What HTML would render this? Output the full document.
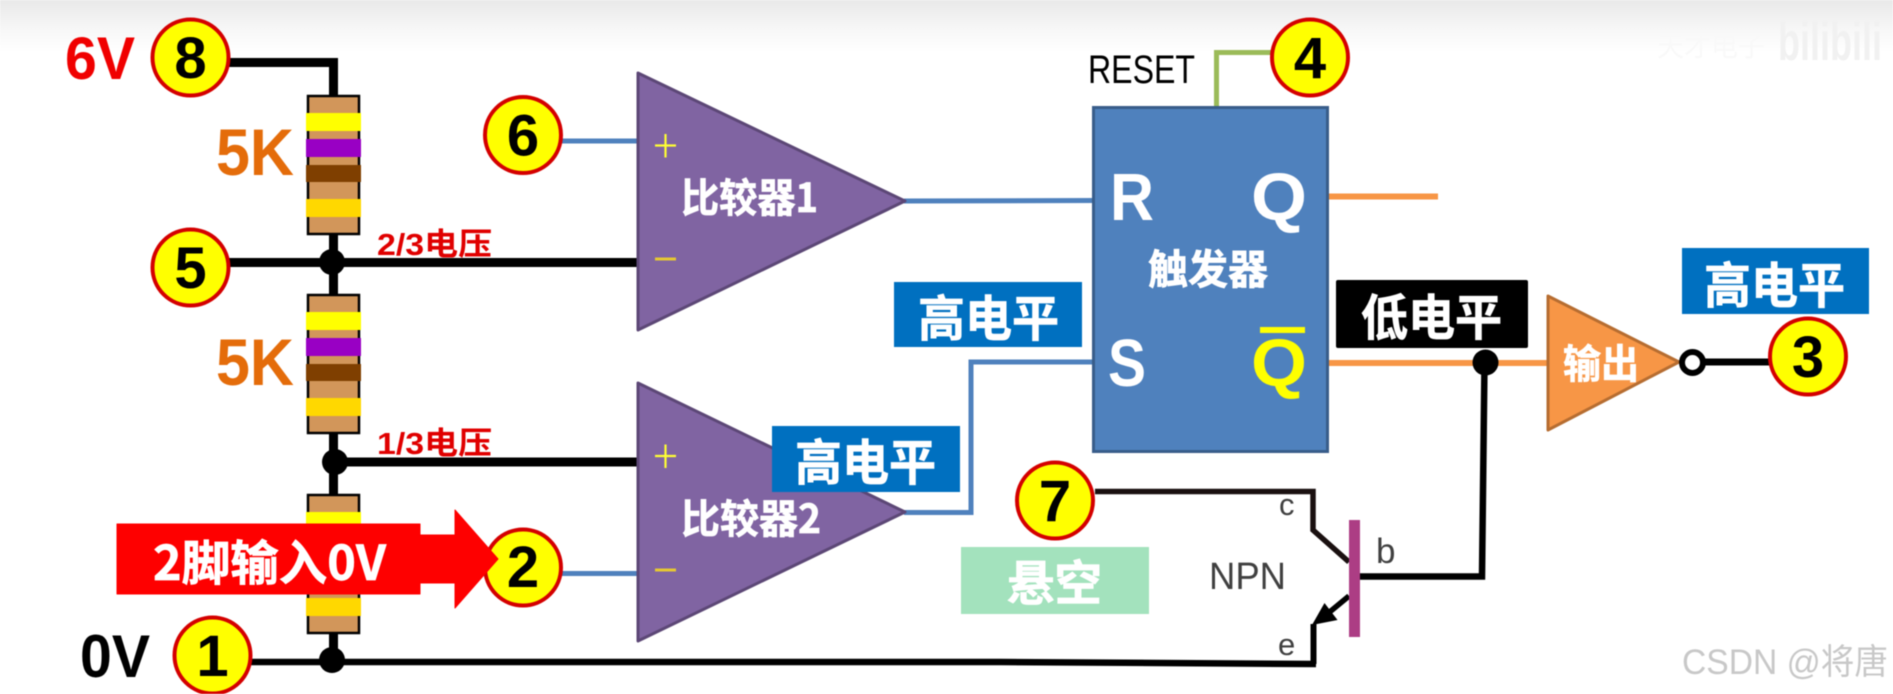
<!DOCTYPE html>
<html><head><meta charset="utf-8"><style>
html,body{margin:0;padding:0;background:#fff;width:1893px;height:694px;overflow:hidden}
svg{display:block;filter:blur(0.45px)}
text{font-family:"Liberation Sans","Noto Sans CJK SC",sans-serif}
.n{font-weight:700;font-size:58px;fill:#000;text-anchor:middle}
.c{font-family:"Noto Sans CJK SC","Liberation Sans",sans-serif;font-weight:700;fill:#fff;stroke:#fff;stroke-width:0.7px}
.w{fill:none;stroke:#000;stroke-width:9}
.bl{fill:none;stroke:#4f81bd;stroke-width:5}
.cir{fill:#ff0;stroke:#d40000;stroke-width:4}
</style></head><body>
<svg width="1893" height="694" viewBox="0 0 1893 694" xmlns="http://www.w3.org/2000/svg">
<defs>
<linearGradient id="top" x1="0" y1="0" x2="0" y2="1"><stop offset="0" stop-color="#e9e9e9"/><stop offset="0.6" stop-color="#f8f8f8"/><stop offset="1" stop-color="#fff"/></linearGradient>
</defs>
<rect width="1893" height="694" fill="#fff"/>
<rect width="1893" height="52" fill="url(#top)"/>

<!-- watermark -->
<text x="1657" y="56" font-size="28" fill="#f9f9f9" textLength="108" lengthAdjust="spacingAndGlyphs">天才电子</text>
<text x="1778" y="60" font-size="54" font-weight="700" fill="#f1f1f1" textLength="104" lengthAdjust="spacingAndGlyphs">bilibili</text>

<!-- wires left -->
<path class="w" d="M228 62.5H333.5V96"/>
<path class="w" d="M333.5 234V294M228 262.5H640"/>
<path class="w" d="M333.5 433V494M334 462H640"/>
<path d="M333.5 633V662" class="w"/>
<path d="M250 662H1000L1316 664" fill="none" stroke="#000" stroke-width="6.5"/>
<circle cx="332" cy="262" r="13"/>
<ellipse cx="335" cy="462" rx="13" ry="13"/>
<circle cx="332" cy="660" r="13"/>

<!-- resistors -->
<g id="r1">
<rect x="308" y="96" width="51" height="138" fill="#d2965a" stroke="#000" stroke-width="2.5"/>
<rect x="306" y="113" width="55" height="18" fill="#ffff00"/>
<rect x="306" y="139" width="55" height="18" fill="#9900c4"/>
<rect x="306" y="165" width="55" height="17" fill="#7f3f00"/>
<rect x="306" y="199" width="55" height="18" fill="#ffd800"/>
</g>
<g transform="translate(0,199)">
<rect x="308" y="96" width="51" height="138" fill="#d2965a" stroke="#000" stroke-width="2.5"/>
<rect x="306" y="113" width="55" height="18" fill="#ffff00"/>
<rect x="306" y="139" width="55" height="18" fill="#9900c4"/>
<rect x="306" y="165" width="55" height="17" fill="#7f3f00"/>
<rect x="306" y="199" width="55" height="18" fill="#ffd800"/>
</g>
<g transform="translate(0,399)">
<rect x="308" y="96" width="51" height="138" fill="#d2965a" stroke="#000" stroke-width="2.5"/>
<rect x="306" y="113" width="55" height="18" fill="#ffff00"/>
<rect x="306" y="199" width="55" height="18" fill="#ffd800"/>
</g>

<!-- blue wires -->
<path class="bl" d="M560 141H640"/>
<path class="bl" d="M560 573.5H640"/>
<path class="bl" d="M904 201L1094 200.5"/>
<path class="bl" d="M904 512.5H971V362H1094"/>

<!-- comparators -->
<path d="M638 73L905 201L638 330Z" fill="#8064a2" stroke="#5c4776" stroke-width="3" stroke-linejoin="round"/>
<path d="M638 383L905 512L638 641Z" fill="#8064a2" stroke="#5c4776" stroke-width="3" stroke-linejoin="round"/>
<path d="M655 145.5H676M665.5 134V157.500" stroke="#ffff33" stroke-width="2.200" fill="none"/>
<path d="M655 259H676" stroke="#e6c832" stroke-width="3" fill="none"/>
<path d="M655 456H676M665.5 444.500V468" stroke="#ffff33" stroke-width="2.200" fill="none"/>
<path d="M655 570H676" stroke="#e6c832" stroke-width="3" fill="none"/>
<text class="c" x="681" y="212" font-size="40" textLength="137" lengthAdjust="spacingAndGlyphs">比较器1</text>
<text class="c" x="681" y="533" font-size="40" textLength="140" lengthAdjust="spacingAndGlyphs">比较器2</text>

<!-- flip flop -->
<path d="M1216.500 108V52.500H1272" fill="none" stroke="#9bbb59" stroke-width="5"/>
<rect x="1093.500" y="107.500" width="234" height="344" fill="#4f81bd" stroke="#385d8a" stroke-width="3"/>
<text x="1110" y="220" font-size="67" font-weight="700" fill="#fff" textLength="44" lengthAdjust="spacingAndGlyphs">R</text>
<text x="1251" y="220" font-size="67" font-weight="700" fill="#fff" textLength="56" lengthAdjust="spacingAndGlyphs">Q</text>
<text x="1108" y="386" font-size="67" font-weight="700" fill="#fff" textLength="38" lengthAdjust="spacingAndGlyphs">S</text>
<text x="1251" y="386" font-size="67" font-weight="700" fill="#ff0" textLength="56" lengthAdjust="spacingAndGlyphs">Q</text>
<rect x="1260" y="327" width="45" height="6" fill="#ff0"/>
<text class="c" x="1148" y="284" font-size="41" textLength="120" lengthAdjust="spacingAndGlyphs">触发器</text>
<text x="1088" y="83" font-size="40" fill="#000" textLength="107" lengthAdjust="spacingAndGlyphs">RESET</text>

<!-- orange wires -->
<path d="M1329 196.500H1438" fill="none" stroke="#f79646" stroke-width="6"/>
<path d="M1329 363H1550" fill="none" stroke="#f79646" stroke-width="6"/>

<!-- base wire -->
<path d="M1360 576.500H1482L1484.500 363" fill="none" stroke="#000" stroke-width="6.500"/>
<circle cx="1485.500" cy="362.500" r="13"/>

<!-- output -->
<path d="M1548 296L1679 362L1548 430Z" fill="#f79646" stroke="#b66d31" stroke-width="3" stroke-linejoin="round"/>
<text class="c" x="1563" y="378" font-size="40" textLength="76" lengthAdjust="spacingAndGlyphs">输出</text>
<path d="M1700 362H1772" stroke="#000" stroke-width="7" fill="none"/>
<circle cx="1692.500" cy="362.500" r="10.500" fill="#fff" stroke="#000" stroke-width="6"/>

<!-- transistor -->
<path d="M1095 491.500H1313V530L1349 562" fill="none" stroke="#1a1010" stroke-width="5.500"/>
<path d="M1349 596L1326 615" fill="none" stroke="#000" stroke-width="5.500"/>
<path d="M1312 625L1324.500 603L1337.500 620Z" fill="#000"/>
<path d="M1313.500 624V664" fill="none" stroke="#000" stroke-width="6"/>
<rect x="1349" y="520" width="11" height="117" fill="#ac3d84"/>
<text x="1209" y="589" font-size="38" fill="#404040" textLength="77" lengthAdjust="spacingAndGlyphs">NPN</text>
<text x="1279" y="515" font-size="31" fill="#404040">c</text>
<text x="1376" y="563" font-size="35" fill="#404040">b</text>
<text x="1278" y="655" font-size="31" fill="#404040">e</text>

<!-- label boxes -->
<rect x="894" y="282" width="188" height="65" fill="#0070c0"/>
<text class="c" x="918" y="336" font-size="49" textLength="141" lengthAdjust="spacingAndGlyphs">高电平</text>
<rect x="772" y="426" width="188" height="66" fill="#0070c0"/>
<text class="c" x="795" y="480" font-size="49" textLength="141" lengthAdjust="spacingAndGlyphs">高电平</text>
<rect x="1682" y="248" width="187" height="66" fill="#0070c0"/>
<text class="c" x="1704" y="303" font-size="49" textLength="141" lengthAdjust="spacingAndGlyphs">高电平</text>
<rect x="1336" y="280" width="192" height="68" rx="2" fill="#000"/>
<text class="c" x="1361" y="335" font-size="49" textLength="141" lengthAdjust="spacingAndGlyphs">低电平</text>
<rect x="961" y="547" width="188" height="67" fill="#a3e2bd"/>
<text class="c" x="1007" y="600" font-size="48" textLength="95" lengthAdjust="spacingAndGlyphs">悬空</text>

<!-- terminal circles -->
<circle class="cir" cx="190.500" cy="57.500" r="38"/><text class="n" x="190.500" y="78">8</text>
<circle class="cir" cx="190.500" cy="267.500" r="38"/><text class="n" x="190.500" y="288">5</text>
<circle class="cir" cx="523" cy="135" r="38"/><text class="n" x="523" y="155.500">6</text>
<circle class="cir" cx="523" cy="567.500" r="38"/><text class="n" x="523" y="587">2</text>
<circle class="cir" cx="212.500" cy="655.500" r="38"/><text class="n" x="212.500" y="676">1</text>
<circle class="cir" cx="1055" cy="500.500" r="38"/><text class="n" x="1055" y="521">7</text>
<circle class="cir" cx="1310" cy="57.500" r="38"/><text class="n" x="1310" y="78">4</text>
<circle class="cir" cx="1808" cy="356.500" r="38"/><text class="n" x="1808" y="377">3</text>

<!-- red arrow -->
<path d="M117 524H420V535H455V510L498 559L455 608V583H420V594H117Z" fill="#fe0000" stroke="#fe0000" stroke-width="1" stroke-linejoin="round"/>
<text class="c" x="153" y="580" font-size="48" textLength="233" lengthAdjust="spacingAndGlyphs">2脚输入0V</text>

<!-- voltage labels -->
<text x="65" y="79" font-size="60" font-weight="700" fill="#f00000" textLength="70" lengthAdjust="spacingAndGlyphs">6V</text>
<text x="80" y="677" font-size="60" font-weight="700" fill="#000" textLength="70" lengthAdjust="spacingAndGlyphs">0V</text>
<text x="216" y="175" font-size="66" font-weight="700" fill="#e46c0a" textLength="78" lengthAdjust="spacingAndGlyphs">5K</text>
<text x="216" y="385" font-size="66" font-weight="700" fill="#e46c0a" textLength="78" lengthAdjust="spacingAndGlyphs">5K</text>
<text x="377" y="255" font-size="31" font-weight="700" fill="#e00000" textLength="115" lengthAdjust="spacingAndGlyphs">2/3电压</text>
<text x="377" y="454" font-size="31" font-weight="700" fill="#e00000" textLength="115" lengthAdjust="spacingAndGlyphs">1/3电压</text>

<!-- csdn -->
<text x="1682" y="674" font-size="35" fill="#c8c8c8" textLength="206" lengthAdjust="spacingAndGlyphs">CSDN @将唐</text>
</svg>
</body></html>
